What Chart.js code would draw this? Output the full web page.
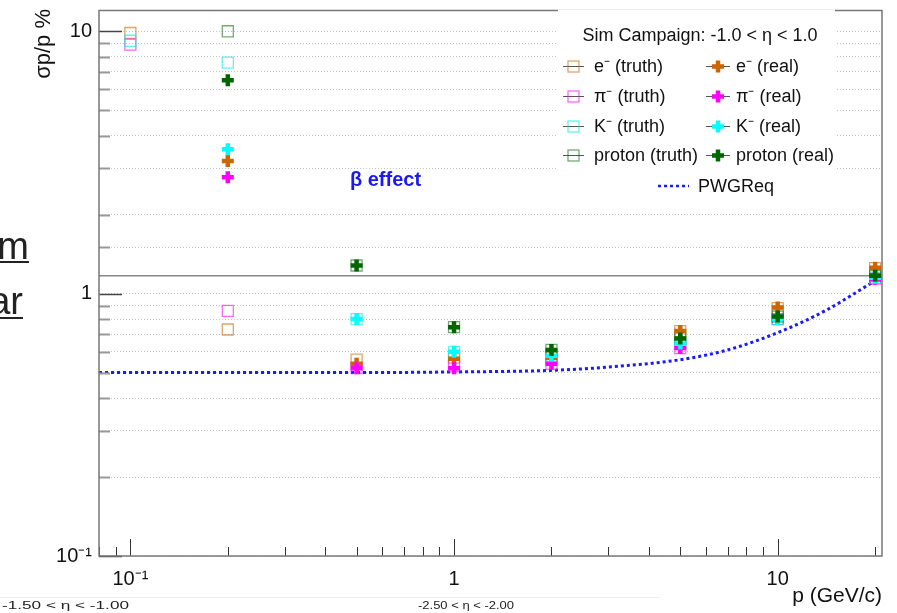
<!DOCTYPE html>
<html>
<head>
<meta charset="utf-8">
<script src="https://cdn.jsdelivr.net/npm/chart.js@4.4.0/dist/chart.umd.min.js"></script>
<style>
  html, body { margin: 0; padding: 0; background: #fff; }
  canvas { display: block; }
</style>
</head>
<body>
<canvas id="resChart" width="897" height="613"></canvas>
<script>
// momentum points (GeV/c)
var momenta = [0.1, 0.2, 0.5, 1, 2, 5, 10, 20];

// sigma_p / p in %, truth seeding (open squares)
var eTruth  = [9.85, 0.73, 0.56, 0.57, 0.57, 0.72, 0.88, 1.25];
var piTruth = [8.9, 0.86, 0.52, 0.53, 0.54, 0.62, 0.80, 1.14];
var kTruth  = [9.2, 7.6, 0.80, 0.60, 0.58, 0.645, 0.80, 1.15];
var prTruth = [null, 10.0, 1.28, 0.745, 0.61, 0.675, 0.818, 1.17];

// sigma_p / p in %, real seeding (full crosses)
var eReal  = [null, 3.2, 0.54, 0.565, 0.57, 0.72, 0.885, 1.255];
var piReal = [null, 2.78, 0.52, 0.52, 0.54, 0.62, 0.80, 1.14];
var kReal  = [null, 3.55, 0.80, 0.60, 0.58, 0.645, 0.80, 1.15];
var prReal = [null, 6.5, 1.28, 0.745, 0.61, 0.675, 0.818, 1.17];

// PWG requirement curve
var pwgP   = [0.08, 0.2, 0.5, 1, 2, 3, 5, 7, 10, 14, 20];
var pwgRes = [0.50, 0.50, 0.50, 0.503, 0.51, 0.525, 0.56, 0.61, 0.71, 0.86, 1.12];

// solid horizontal reference line
var refP   = [0.08, 21];
var refRes = [1.17, 1.17];

// axis tick labels
var decadeValues = [0.1, 1, 10];
var decadeLabels = ["10\u207B\u00B9", "1", "10"];

var truthLabels = ["e\u207B (truth)", "\u03C0\u207B (truth)", "K\u207B (truth)", "proton (truth)"];
var realLabels  = ["e\u207B (real)", "\u03C0\u207B (real)", "K\u207B (real)", "proton (real)"];

var colE = "#cc6600", colPi = "#ff00ff", colK = "#00ffff", colPr = "#006600";

function toPoints(xs, ys) {
    var out = [];
    for (var i = 0; i < xs.length; i++) {
        if (ys[i] !== null) out.push({ x: xs[i], y: ys[i] });
    }
    return out;
}

function isDecade(v) {
    var l = Math.log10(v);
    return Math.abs(l - Math.round(l)) < 1e-6;
}

function decadeLabel(v) {
    for (var i = 0; i < decadeValues.length; i++) {
        if (Math.abs(v - decadeValues[i]) / decadeValues[i] < 1e-6) return decadeLabels[i];
    }
    return "";
}

function truthSet(label, data, color, order) {
    return {
        label: label, data: toPoints(momenta, data), showLine: false,
        pointStyle: "rect", pointRadius: 7.8, pointBorderWidth: 1.3,
        pointBorderColor: color, pointBackgroundColor: "rgba(0,0,0,0)",
        order: order
    };
}

function realSet(label, data, color, order) {
    return {
        label: label, data: toPoints(momenta, data), showLine: false,
        pointStyle: "cross", pointRadius: 6, pointBorderWidth: 4.5,
        pointBorderColor: color, pointBackgroundColor: color,
        order: order
    };
}

// frame and ROOT-like tick marks inside the frame
var framePlugin = {
    id: "frame",
    afterDatasetsDraw: function (chart) {
        var ctx = chart.ctx, a = chart.chartArea;
        var xs = chart.scales.x, ys = chart.scales.y;
        ctx.save();
        ys.ticks.forEach(function (t) {
            if (t.value > 10.01) return;
            var py = Math.round(ys.getPixelForValue(t.value)) + 0.5;
            var major = isDecade(t.value);
            ctx.strokeStyle = major ? "#444" : "#999";
            ctx.lineWidth = major ? 1.5 : 2;
            ctx.beginPath();
            ctx.moveTo(a.left, py);
            ctx.lineTo(a.left + (major ? 23 : 11), py);
            ctx.stroke();
        });
        xs.ticks.forEach(function (t) {
            var l = Math.log10(t.value);
            var sig = t.value / Math.pow(10, Math.floor(l + 1e-9));
            if (Math.abs(sig - Math.round(sig)) > 1e-6) return;
            var px = Math.round(xs.getPixelForValue(t.value)) + 0.5;
            var major = isDecade(t.value);
            ctx.strokeStyle = "#333";
            ctx.lineWidth = 1;
            ctx.beginPath();
            ctx.moveTo(px, a.bottom);
            ctx.lineTo(px, a.bottom - (major ? 17 : 9));
            ctx.stroke();
        });
        ctx.strokeStyle = "#777";
        ctx.lineWidth = 1.5;
        ctx.strokeRect(a.left, a.top, a.right - a.left, a.bottom - a.top);
        ctx.restore();
    }
};

function fitText(ctx, text, x, y, width) {
    var w = ctx.measureText(text).width;
    ctx.save();
    ctx.translate(x, y);
    ctx.scale(width / w, 1);
    ctx.fillText(text, 0, 0);
    ctx.restore();
}

// legend, titles and loose texts
var overlayPlugin = {
    id: "overlay",
    afterDraw: function (chart) {
        var ctx = chart.ctx;
        var xs = chart.scales.x, ys = chart.scales.y;
        var font = "'Liberation Sans', Arial, sans-serif";
        ctx.save();

        // legend box
        ctx.fillStyle = "#fff";
        ctx.fillRect(558, 9.5, 277, 196);
        ctx.fillStyle = "#111";
        ctx.font = "18px " + font;
        ctx.textBaseline = "middle";
        ctx.textAlign = "center";
        ctx.fillText("Sim Campaign: -1.0 < \u03B7 < 1.0", 700, 36);
        ctx.textAlign = "left";
        var rows = [66, 96, 126, 155];
        var truthCols = ["rgba(204,102,0,0.6)", "rgba(255,0,255,0.6)", "rgba(0,230,230,0.6)", "rgba(0,100,0,0.55)"];
        var realCols = [colE, colPi, colK, colPr];
        for (var i = 0; i < 4; i++) {
            var y = rows[i];
            ctx.strokeStyle = "#555";
            ctx.lineWidth = 1;
            ctx.beginPath(); ctx.moveTo(563, y + 0.5); ctx.lineTo(584, y + 0.5); ctx.stroke();
            ctx.strokeStyle = truthCols[i];
            ctx.lineWidth = 1.3;
            ctx.strokeRect(568, y - 5, 11, 11);
            ctx.fillStyle = "#111";
            ctx.fillText(truthLabels[i], 594, y + 1);

            ctx.strokeStyle = "#555";
            ctx.lineWidth = 1;
            ctx.beginPath(); ctx.moveTo(706, y + 0.5); ctx.lineTo(730, y + 0.5); ctx.stroke();
            ctx.strokeStyle = realCols[i];
            ctx.lineWidth = 4.5;
            ctx.beginPath();
            ctx.moveTo(712, y + 0.5); ctx.lineTo(724, y + 0.5);
            ctx.moveTo(718, y - 5.5); ctx.lineTo(718, y + 6.5);
            ctx.stroke();
            ctx.fillStyle = "#111";
            ctx.fillText(realLabels[i], 736, y + 1);
        }
        ctx.strokeStyle = "#1a1aff";
        ctx.lineWidth = 2.5;
        ctx.setLineDash([3, 3]);
        ctx.beginPath(); ctx.moveTo(658, 186); ctx.lineTo(689, 186); ctx.stroke();
        ctx.setLineDash([]);
        ctx.fillText("PWGReq", 698, 187);

        // beta effect annotation
        ctx.fillStyle = "#1a1af0";
        ctx.font = "bold 20px " + font;
        ctx.fillText("\u03B2 effect", xs.getPixelForValue(0.477), ys.getPixelForValue(2.71));

        // axis titles
        ctx.fillStyle = "#111";
        ctx.font = "21px " + font;
        ctx.textAlign = "right";
        ctx.textBaseline = "alphabetic";
        ctx.fillText("p (GeV/c)", 882, 602);
        ctx.font = "22px " + font;
        ctx.save();
        ctx.translate(50, 9);
        ctx.rotate(-Math.PI / 2);
        ctx.fillText("\u03C3p/p %", 0, 0);
        ctx.restore();

        // cut-off slide text on the left
        ctx.fillStyle = "#222";
        ctx.font = "38px " + font;
        ctx.fillText("m", 29, 259);
        ctx.fillText("ar", 23, 314);
        ctx.fillRect(0, 261, 29, 2);
        ctx.fillRect(0, 317, 23, 2);

        // small eta labels at the bottom
        ctx.fillStyle = "#eee";
        ctx.fillRect(0, 597, 660, 1);
        ctx.fillStyle = "#222";
        ctx.font = "11px " + font;
        ctx.textAlign = "left";
        ctx.textBaseline = "middle";
        fitText(ctx, "-1.50 < \u03B7 < -1.00", 2, 606, 127);
        fitText(ctx, "-2.50 < \u03B7 < -2.00", 418, 606, 96);
        ctx.restore();
    }
};

Chart.defaults.font.family = "'Liberation Sans', Arial, sans-serif";
Chart.defaults.color = "#111";

var ctx = document.getElementById("resChart").getContext("2d");
var resChart = new Chart(ctx, {
    type: "scatter",
    data: {
        datasets: [
            {
                label: "ref", data: toPoints(refP, refRes), showLine: true,
                borderColor: "#888", borderWidth: 1.5, pointRadius: 0, order: 20
            },
            {
                label: "PWGReq", data: toPoints(pwgP, pwgRes), showLine: true,
                borderColor: "#1a1aff", borderWidth: 3, borderDash: [3, 3],
                pointRadius: 0, cubicInterpolationMode: "monotone", order: 19
            },
            truthSet(truthLabels[0], eTruth, "rgba(204,102,0,0.6)", 8),
            truthSet(truthLabels[1], piTruth, "rgba(255,0,255,0.6)", 7),
            truthSet(truthLabels[2], kTruth, "rgba(0,230,230,0.6)", 6),
            truthSet(truthLabels[3], prTruth, "rgba(0,100,0,0.55)", 5),
            realSet(realLabels[0], eReal, colE, 4),
            realSet(realLabels[1], piReal, colPi, 3),
            realSet(realLabels[2], kReal, colK, 2),
            realSet(realLabels[3], prReal, colPr, 1)
        ]
    },
    options: {
        responsive: false,
        animation: false,
        layout: { padding: { top: 8, right: 15, left: 0, bottom: 0 } },
        plugins: {
            legend: { display: false },
            tooltip: { enabled: false }
        },
        scales: {
            x: {
                type: "logarithmic",
                min: 0.08,
                max: 21,
                grid: { display: false, drawTicks: false },
                border: { display: false },
                ticks: {
                    autoSkip: false, maxRotation: 0, padding: 11,
                    font: { size: 20 }, color: "#111",
                    callback: function (v) { return decadeLabel(v); }
                },
                afterFit: function (s) { s.height = 57; s.paddingLeft = 0; s.paddingRight = 0; }
            },
            y: {
                type: "logarithmic",
                min: 0.1,
                max: 12,
                grid: {
                    lineWidth: 1, drawTicks: false,
                    color: function (c) { return c.tick && c.tick.value > 10.01 ? "rgba(0,0,0,0)" : "#c4c4c4"; }
                },
                border: { display: false, dash: [1, 2] },
                ticks: {
                    autoSkip: false, padding: 7,
                    font: { size: 20 }, color: "#111",
                    callback: function (v) { return decadeLabel(v); }
                },
                afterFit: function (s) { s.width = 99; s.paddingTop = 0; s.paddingBottom = 0; }
            }
        }
    },
    plugins: [framePlugin, overlayPlugin]
});
</script>
</body>
</html>
